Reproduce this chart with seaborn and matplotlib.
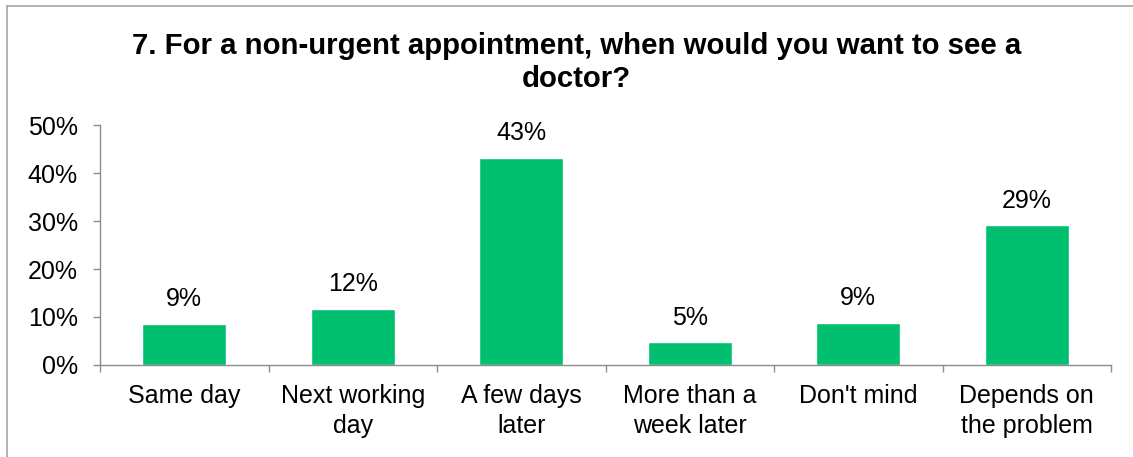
import matplotlib
matplotlib.use("Agg")
import matplotlib.pyplot as plt
from matplotlib.lines import Line2D
from matplotlib.ticker import FixedLocator, PercentFormatter, NullFormatter
import pandas as pd
import seaborn as sns

categories = [
    "Same day",
    "Next working\nday",
    "A few days\nlater",
    "More than a\nweek later",
    "Don't mind",
    "Depends on\nthe problem",
]
shares = [8.6, 11.7, 43.2, 4.7, 8.8, 29.1]
y_ticks = [0, 10, 20, 30, 40, 50]
title = "7. For a non-urgent appointment, when would you want to see a\ndoctor?"

sns.set_theme(style="white")
plt.rcParams["font.family"] = ["Liberation Sans", "DejaVu Sans"]

df = pd.DataFrame({"category": categories, "share": shares})

fig = plt.figure(figsize=(11.33, 4.57), dpi=100)
ax = fig.add_axes([100 / 1133, 1 - 365 / 457, 1011 / 1133, 240 / 457])

sns.barplot(data=df, x="category", y="share", color="#00C070",
            width=0.5, saturation=1, ax=ax)

ax.set_xlim(-0.5, len(categories) - 0.5)
ax.set_ylim(0, 50)
ax.set_yticks(y_ticks)
ax.yaxis.set_major_formatter(PercentFormatter(decimals=0))
ax.set_xlabel("")
ax.set_ylabel("")

grey = "#8C8C8C"
for side in ("top", "right"):
    ax.spines[side].set_visible(False)
for side in ("left", "bottom"):
    ax.spines[side].set_color(grey)
    ax.spines[side].set_linewidth(1.0)

ax.tick_params(axis="y", which="major", direction="out", length=5, width=1,
               color=grey, labelsize=18, labelcolor="black", pad=11, left=True)
ax.tick_params(axis="x", which="major", length=0, labelsize=18,
               labelcolor="black", pad=14)
ax.xaxis.set_minor_locator(FixedLocator([i - 0.5 for i in range(len(categories) + 1)]))
ax.xaxis.set_minor_formatter(NullFormatter())
ax.tick_params(axis="x", which="minor", direction="out", length=5, width=1,
               color=grey, bottom=True)
for lbl in ax.get_xticklabels():
    lbl.set_linespacing(1.3)

for container in ax.containers:
    ax.bar_label(container, labels=[f"{v:.0f}%" for v in shares],
                 padding=9, fontsize=18, color="black")

fig.text(0.509, 1 - 62.5 / 457, title, ha="center", va="center",
         fontsize=21.2, fontweight="bold", color="black", linespacing=1.2)

# chart-area frame
x0 = 6.5 / 1133
y0 = 1 - 5.5 / 457
fig.add_artist(Line2D([x0, x0], [0, y0], color="#A6A6A6", lw=1.2,
                      transform=fig.transFigure))
fig.add_artist(Line2D([x0, 1], [y0, y0], color="#A6A6A6", lw=1.2,
                      transform=fig.transFigure))

fig.savefig("out.png", dpi=100)
